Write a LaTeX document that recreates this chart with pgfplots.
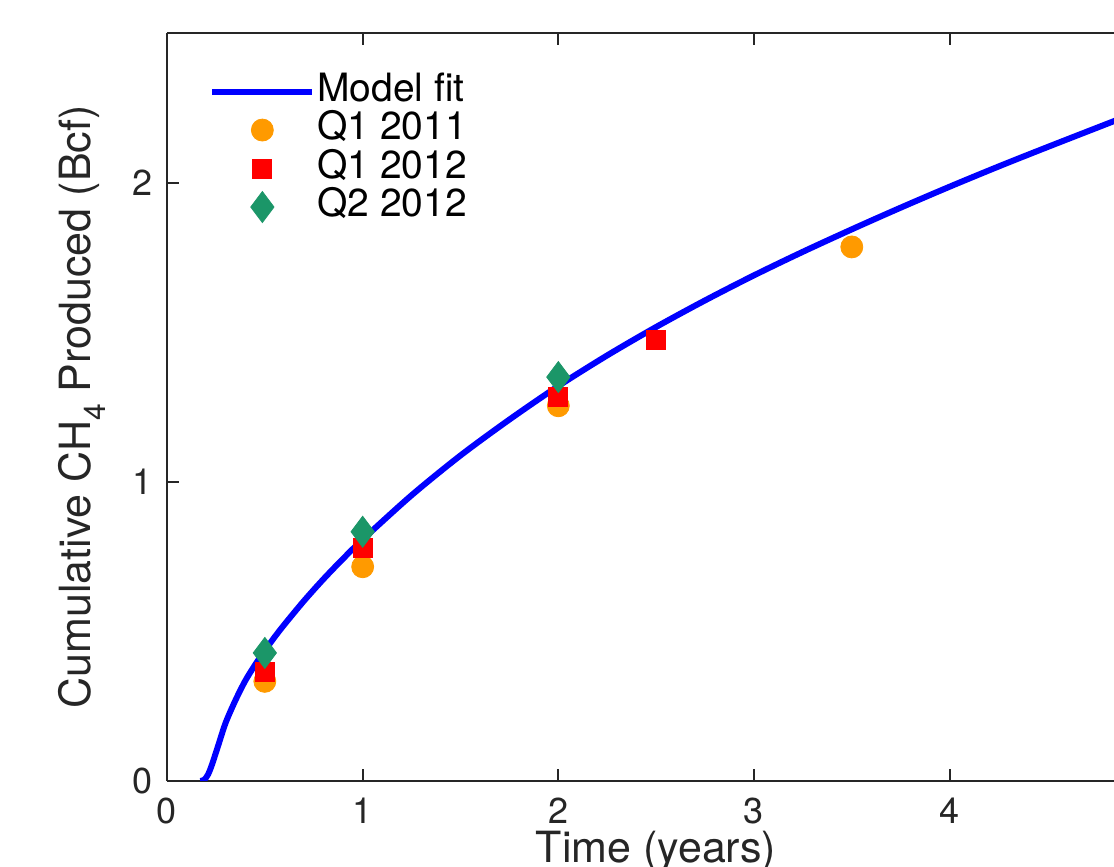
\documentclass[border=0pt]{standalone}
\usepackage{pgfplots}
\pgfplotsset{compat=1.18}
\usepackage{fontspec}
\setmainfont{TeX Gyre Heros}
\definecolor{axgray}{HTML}{262626}
\definecolor{morange}{HTML}{FF9A00}
\definecolor{mgreen}{RGB}{27,150,104}
\begin{document}
\begin{tikzpicture}
\begin{axis}[
  name=ax,
  scale only axis,
  width=473.5pt, height=374pt,
  xmin=0, xmax=4.84, ymin=0, ymax=2.5,
  axis x line*=box, axis y line*=left,
  axis line style={axgray, line width=1pt},
  xtick={0,1,2,3,4}, ytick={0,1,2},
  tick align=inside, major tick length=6pt,
  tick style={axgray, line width=1pt},
  /pgf/number format/assume math mode=true,
  ticklabel style={font=\fontsize{18}{21}\selectfont, text=axgray},
  xticklabel style={inner sep=0pt, yshift=-8.5pt},
  yticklabel style={inner sep=0pt, xshift=-7pt},
  xlabel={Time (years)},
  ylabel={Cumulative CH\raisebox{-0.35em}{\fontsize{15}{15}\selectfont 4}\ Produced (Bcf)},
  xlabel style={font=\fontsize{21.5}{25}\selectfont, text=axgray, at={(axis description cs:0.5165,-0.1096)}, anchor=base, inner sep=0pt},
  ylabel style={font=\fontsize{21.5}{25}\selectfont, text=axgray, at={(axis description cs:-0.0813,0.5)}, anchor=base, rotate=0, inner sep=0pt},
  legend image code/.code={\draw[#1, mark repeat=2, mark phase=2] plot coordinates {(0pt,0pt) (25pt,0pt) (50pt,0pt)};},
  legend cell align=left,
  legend style={draw=none, fill=none, inner sep=0pt, row sep=0pt,
    font=\fontsize{19.5}{23}\selectfont,
    at={(axis description cs:0.0443,0.948)}, anchor=north west,
    nodes={inner xsep=1pt, inner ysep=0.5pt, text height=14pt, text depth=4.25pt}},
]
\addplot[blue, line width=3pt, smooth, tension=0.5] coordinates {
(0.17,0) (0.19,0.004) (0.21,0.022) (0.23,0.055) (0.26,0.115) (0.30,0.195) (0.35,0.270) (0.40,0.335)
(0.45,0.388) (0.50,0.436) (0.55,0.481) (0.60,0.523) (0.70,0.602) (0.80,0.675) (0.90,0.743) (1.00,0.807)
(1.25,0.955) (1.50,1.088) (1.75,1.208) (2.00,1.320) (2.25,1.4225) (2.50,1.5175)
(2.75,1.6063) (3.00,1.690) (3.25,1.7688) (3.50,1.8438) (3.75,1.9163) (4.00,1.9863)
(4.25,2.0538) (4.50,2.1188) (4.84,2.2055) (4.90,2.2205)};
\addlegendentry{Model fit}
\addplot[only marks, mark=*, mark size=5.5pt, mark options={fill=morange, draw=morange}] coordinates {
(0.5,0.333) (1,0.716) (2,1.254) (3.5,1.785)};
\addlegendentry{Q1 2011}
\addplot[only marks, mark=square*, mark size=4.75pt, mark options={fill=red, draw=red}] coordinates {
(0.5,0.364) (1,0.78) (2,1.285) (2.5,1.473)};
\addlegendentry{Q1 2012}
\addplot[only marks, mark=diamond*, mark size=7.75pt, mark options={fill=mgreen, draw=mgreen}] coordinates {
(0.5,0.428) (1,0.833) (2,1.35)};
\addlegendentry{Q2 2012}
\end{axis}
\pgfresetboundingbox
\path[use as bounding box] ([xshift=-83.5pt,yshift=-43pt]ax.south west) rectangle ([yshift=16.5pt]ax.north east);
\end{tikzpicture}
\end{document}
